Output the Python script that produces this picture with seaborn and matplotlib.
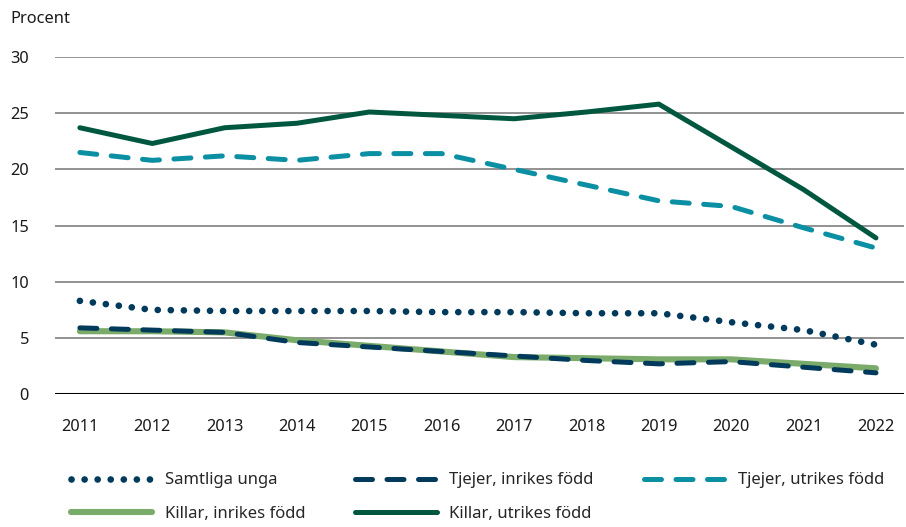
import pandas as pd
import matplotlib.pyplot as plt
import seaborn as sns

years = list(range(2011, 2023))
samtliga = [8.3, 7.5, 7.4, 7.4, 7.4, 7.3, 7.3, 7.2, 7.2, 6.4, 5.7, 4.4]
tjejer_inrikes = [5.9, 5.7, 5.5, 4.6, 4.2, 3.8, 3.4, 3.0, 2.7, 2.9, 2.4, 1.9]
tjejer_utrikes = [21.5, 20.8, 21.2, 20.8, 21.4, 21.4, 20.0, 18.6, 17.2, 16.7, 14.8, 13.0]
killar_inrikes = [5.6, 5.6, 5.5, 4.8, 4.3, 3.8, 3.3, 3.2, 3.1, 3.1, 2.7, 2.3]
killar_utrikes = [23.7, 22.3, 23.7, 24.1, 25.1, 24.8, 24.5, 25.1, 25.8, 22.0, 18.2, 13.9]

sns.set_style("white")
plt.rcParams['font.family'] = ['Noto Sans', 'DejaVu Sans']

fig = plt.figure(figsize=(9.06, 5.27), dpi=100)
ax = fig.add_axes([0.061, 0.252, 0.937, 0.64])

navy = '#023a5c'
teal = '#0b8fa3'
lightgreen = '#7bab6b'
darkgreen = '#00573f'

# drawing order: light green under the navy dashes
series = [
    ('Killar, inrikes född', killar_inrikes, lightgreen, '-', 4.4),
    ('Tjejer, inrikes född', tjejer_inrikes, navy, (0, (3.4, 2.9)), 3.6),
    ('Samtliga unga', samtliga, navy, (0, (0.01, 1.95)), 4.8),
    ('Tjejer, utrikes född', tjejer_utrikes, teal, (0, (3.4, 2.9)), 3.6),
    ('Killar, utrikes född', killar_utrikes, darkgreen, '-', 3.6),
]

handles = {}
for name, vals, col, ls, lw in series:
    df = pd.DataFrame({'year': years, 'value': vals})
    sns.lineplot(data=df, x='year', y='value', ax=ax, color=col, linestyle=ls,
                 linewidth=lw, dash_capstyle='round', solid_capstyle='round',
                 clip_on=False, label=name)
    handles[name] = ax.get_lines()[-1]

ax.set_ylim(0, 30)
ax.set_xlim(2010.66, 2022.39)
ax.set_yticks([0, 5, 10, 15, 20, 25, 30])
ax.set_xticks(years)
ax.yaxis.grid(True, color='#7f7f7f', linewidth=1.2)
ax.axhline(0, color='black', linewidth=2.2, zorder=1)
ax.set_axisbelow(True)
for s in ax.spines.values():
    s.set_visible(False)
ax.tick_params(axis='y', length=0, pad=19, labelsize=11.8, colors='#1a1a1a')
ax.tick_params(axis='x', length=0, pad=18, labelsize=11.8, colors='#1a1a1a')
ax.set_xlabel('')
ax.set_ylabel('')
fig.text(0.011, 0.964, 'Procent', fontsize=11.8, color='#1a1a1a', va='center')

order = ['Samtliga unga', 'Killar, inrikes född', 'Tjejer, inrikes född',
         'Killar, utrikes född', 'Tjejer, utrikes född']
ax.legend([handles[k] for k in order], order, loc='upper left',
          bbox_to_anchor=(0.018, -0.232), ncol=3, frameon=False, fontsize=12.0,
          handlelength=4.9, handletextpad=0.75, columnspacing=3.0,
          labelspacing=1.05, borderaxespad=0, borderpad=0)

fig.savefig('out.png', dpi=100)
